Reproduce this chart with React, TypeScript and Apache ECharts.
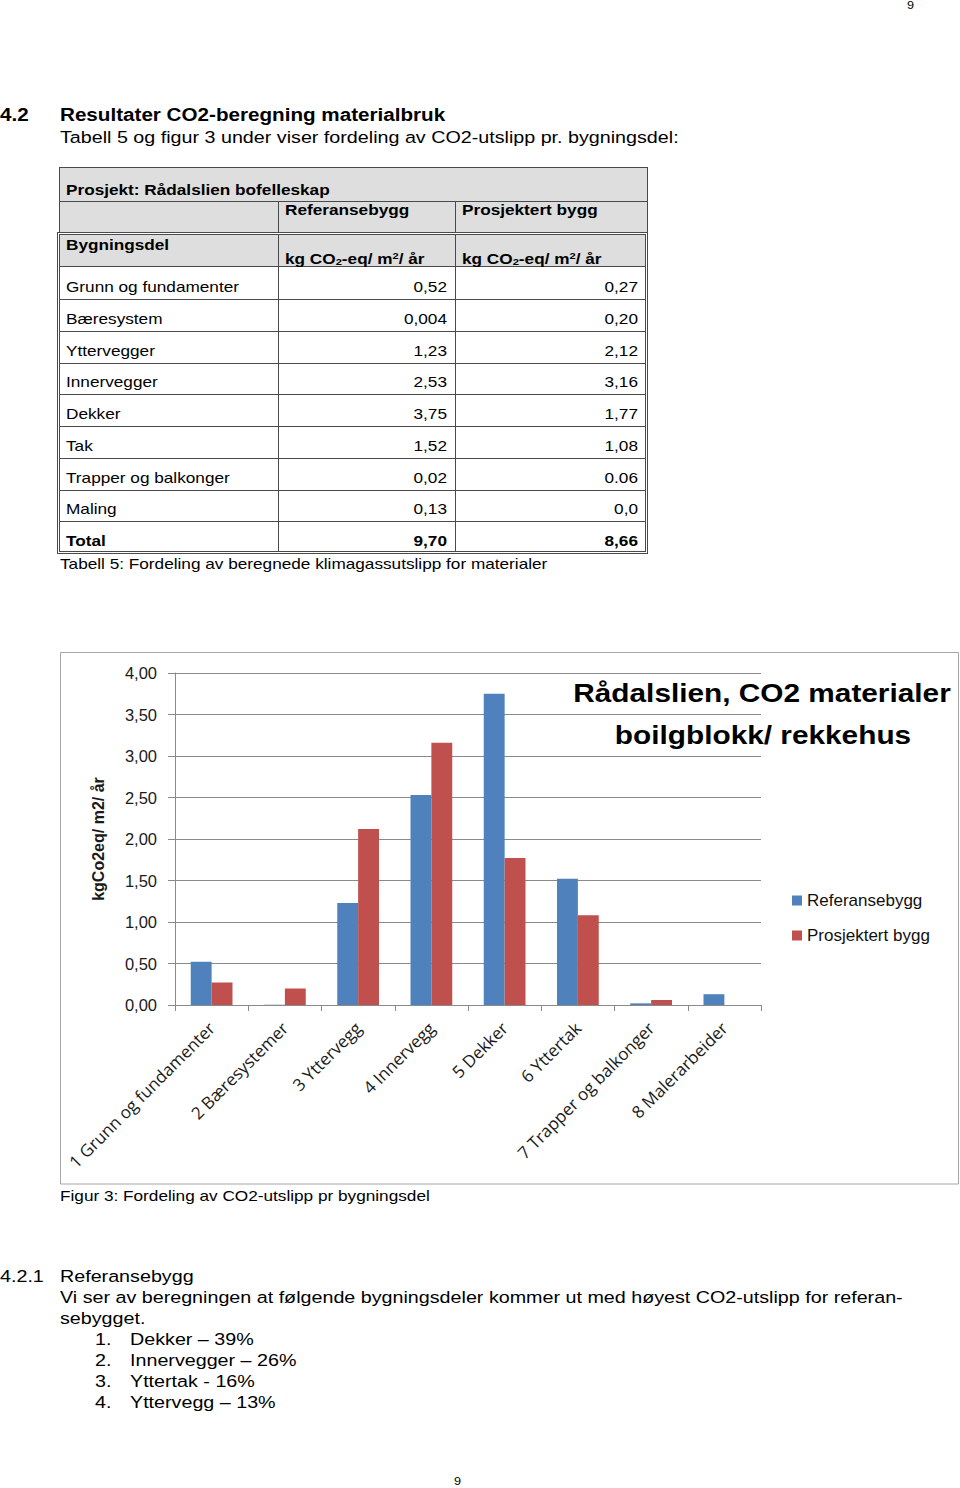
import React, { useEffect, useRef } from "react";
import * as echarts from "echarts";

// ---------- chart data ----------
const categories = [
  "1 Grunn og fundamenter",
  "2 Bæresystemer",
  "3 Yttervegg",
  "4 Innervegg",
  "5 Dekker",
  "6 Yttertak",
  "7 Trapper og balkonger",
  "8 Malerarbeider",
];
const refValues = [0.52, 0.004, 1.23, 2.53, 3.75, 1.52, 0.02, 0.13];
const projValues = [0.27, 0.2, 2.12, 3.16, 1.77, 1.08, 0.06, 0.0];
const seriesNames = ["Referansebygg", "Prosjektert bygg"];
const yTickLabels = ["0,00", "0,50", "1,00", "1,50", "2,00", "2,50", "3,00", "3,50", "4,00"];
const titleLines = ["Rådalslien, CO2 materialer", "boilgblokk/ rekkehus"];
const yAxisName = "kgCo2eq/ m2/ år";

// ---------- table data ----------
const tableParts = [
  "Grunn og fundamenter",
  "Bæresystem",
  "Yttervegger",
  "Innervegger",
  "Dekker",
  "Tak",
  "Trapper og balkonger",
  "Maling",
];
const tableRef = ["0,52", "0,004", "1,23", "2,53", "3,75", "1,52", "0,02", "0,13"];
const tableProj = ["0,27", "0,20", "2,12", "3,16", "1,77", "1,08", "0.06", "0,0"];
const tableTotal = ["Total", "9,70", "8,66"];

const SX = 1.146;
const FONT = '"Liberation Sans", Arial, Helvetica, sans-serif';
const LINE = "#4a4a4a";
const HEAD_BG = "#dedede";
const BODY = 17.2;

function T({
  x,
  y,
  size,
  bold,
  right,
  children,
}: {
  x: number;
  y: number;
  size: number;
  bold?: boolean;
  right?: boolean;
  children: React.ReactNode;
}) {
  const h = size * 1.2;
  const base: React.CSSProperties = {
    position: "absolute",
    top: y - h / 2,
    height: h,
    lineHeight: `${h}px`,
    fontSize: size,
    fontWeight: bold ? "bold" : "normal",
    whiteSpace: "nowrap",
    transform: `scaleX(${SX})`,
    transformOrigin: right ? "right center" : "left center",
  };
  if (right) {
    return (
      <div style={{ ...base, left: x - 400, width: 400, textAlign: "right" }}>{children}</div>
    );
  }
  return <div style={{ ...base, left: x }}>{children}</div>;
}

function HLine({ x1, x2, y }: { x1: number; x2: number; y: number }) {
  return (
    <div
      style={{ position: "absolute", left: x1, top: y, width: x2 - x1, height: 1, background: LINE }}
    />
  );
}
function VLine({ x, y1, y2 }: { x: number; y1: number; y2: number }) {
  return (
    <div
      style={{ position: "absolute", left: x, top: y1, width: 1, height: y2 - y1, background: LINE }}
    />
  );
}

function Units() {
  return (
    <span>
      kg CO<sub style={{ fontSize: "0.65em", verticalAlign: "-0.15em" }}>2</sub>-eq/ m
      <sup style={{ fontSize: "0.65em", verticalAlign: "0.55em" }}>2</sup>/ år
    </span>
  );
}

function Table() {
  const c1 = 278;
  const c2 = 455;
  const rowBottoms: number[] = [];
  let b = 299;
  rowBottoms.push(b);
  for (let i = 1; i <= tableParts.length; i++) {
    b += 31.75;
    rowBottoms.push(b);
  }
  const rows = tableParts.map((p, i) => [p, tableRef[i], tableProj[i]]);
  rows.push(tableTotal);
  return (
    <>
      <div
        style={{
          position: "absolute",
          left: 59,
          top: 167,
          width: 589,
          height: 66,
          boxSizing: "border-box",
          border: `1px solid ${LINE}`,
          background: HEAD_BG,
        }}
      />
      <HLine x1={59} x2={647} y={201} />
      <VLine x={c1} y1={201} y2={233} />
      <VLine x={c2} y1={201} y2={233} />
      <div
        style={{
          position: "absolute",
          left: 57,
          top: 232,
          width: 591,
          height: 322,
          boxSizing: "border-box",
          border: `3px double ${LINE}`,
          background: "#fff",
        }}
      />
      <div
        style={{ position: "absolute", left: 60, top: 235, width: 585, height: 31, background: HEAD_BG }}
      />
      <HLine x1={60} x2={645} y={266} />
      {rowBottoms.slice(0, rowBottoms.length - 1).map((yb, i) => (
        <HLine key={i} x1={60} x2={645} y={Math.round(yb)} />
      ))}
      <VLine x={c1} y1={235} y2={551} />
      <VLine x={c2} y1={235} y2={551} />

      <T x={66} y={190} size={15} bold>
        Prosjekt: Rådalslien bofelleskap
      </T>
      <T x={285} y={210} size={15} bold>
        Referansebygg
      </T>
      <T x={462} y={210} size={15} bold>
        Prosjektert bygg
      </T>
      <T x={66} y={245} size={15} bold>
        Bygningsdel
      </T>
      <T x={285} y={256} size={15} bold>
        <Units />
      </T>
      <T x={462} y={256} size={15} bold>
        <Units />
      </T>
      {rows.map((r, i) => {
        const cy = rowBottoms[i] - 12;
        const bold = i === rows.length - 1;
        return (
          <React.Fragment key={i}>
            <T x={66} y={cy} size={15} bold={bold}>
              {r[0]}
            </T>
            <T x={447} y={cy} size={15} bold={bold} right>
              {r[1]}
            </T>
            <T x={638} y={cy} size={15} bold={bold} right>
              {r[2]}
            </T>
          </React.Fragment>
        );
      })}
      <T x={60} y={564} size={15}>
        Tabell 5: Fordeling av beregnede klimagassutslipp for materialer
      </T>
    </>
  );
}

function Chart() {
  const ref = useRef<HTMLDivElement>(null);
  useEffect(() => {
    if (!ref.current) return;
    const chart = echarts.init(ref.current, null, { renderer: "svg" });
    const grid = "#8a8a8a";
    chart.setOption({
      animation: false,
      grid: { left: 115, top: 21, width: 586, height: 332 },
      xAxis: {
        type: "category",
        data: categories,
        axisLine: { show: true, lineStyle: { color: grid, width: 1 } },
        axisTick: { show: true, length: 6, lineStyle: { color: grid } },
        axisLabel: {
          interval: 0,
          rotate: 45,
          margin: 20,
          fontFamily: '"Open Sans", sans-serif',
          fontSize: 17,
          color: "#1a1a1a",
        },
        splitLine: { show: false },
      },
      yAxis: {
        type: "value",
        min: 0,
        max: 4,
        interval: 0.5,
        name: yAxisName,
        nameLocation: "middle",
        nameGap: 69,
        nameTextStyle: {
          fontFamily: FONT,
          fontWeight: "bold",
          fontSize: 16,
          color: "#1a1a1a",
        },
        axisLine: { show: true, lineStyle: { color: grid } },
        axisTick: { show: true, length: 7, lineStyle: { color: grid } },
        splitLine: { show: true, lineStyle: { color: grid, width: 1 } },
        axisLabel: {
          margin: 18,
          fontFamily: FONT,
          fontSize: 16.5,
          color: "#1a1a1a",
          formatter: (v: number) => yTickLabels[Math.round(v / 0.5)] ?? "",
        },
      },
      legend: {
        orient: "vertical",
        left: 727,
        top: 235,
        itemWidth: 10,
        itemHeight: 10,
        itemGap: 18,
        icon: "rect",
        textStyle: { fontFamily: FONT, fontSize: 17, color: "#111" },
        data: seriesNames,
      },
      series: [
        {
          type: "bar",
          name: seriesNames[0],
          data: refValues,
          itemStyle: { color: "#4F81BD" },
          barGap: "0%",
          barCategoryGap: "43%",
        },
        {
          type: "bar",
          name: seriesNames[1],
          data: projValues,
          itemStyle: { color: "#C0504D" },
          barGap: "0%",
          barCategoryGap: "43%",
        },
      ],
      graphic: [
        {
          type: "rect",
          z: 0,
          shape: { x: 0.5, y: 0.5, width: 898, height: 531.5 },
          style: { fill: "none", stroke: "#a6a6a6", lineWidth: 1 },
        },
        {
          type: "text",
          z: 100,
          x: 702,
          y: 41,
          scaleX: SX,
          style: {
            text: titleLines[0],
            font: `bold 26px ${FONT}`,
            fill: "#000",
            textAlign: "center",
            textVerticalAlign: "middle",
          },
        },
        {
          type: "text",
          z: 100,
          x: 703,
          y: 83,
          scaleX: SX,
          style: {
            text: titleLines[1],
            font: `bold 26px ${FONT}`,
            fill: "#000",
            textAlign: "center",
            textVerticalAlign: "middle",
          },
        },
      ],
    });
    return () => chart.dispose();
  }, []);
  return (
    <div ref={ref} style={{ position: "absolute", left: 60, top: 652, width: 900, height: 534 }} />
  );
}

export default function App() {
  return (
    <div
      style={{
        position: "absolute",
        left: 0,
        top: 0,
        width: 960,
        height: 1488,
        background: "#fff",
        color: "#000",
        fontFamily: FONT,
        overflow: "hidden",
      }}
    >
      <T x={907} y={6} size={11}>
        9
      </T>
      <T x={0} y={116} size={18} bold>
        4.2
      </T>
      <T x={60} y={116} size={18} bold>
        Resultater CO2-beregning materialbruk
      </T>
      <T x={60} y={137} size={BODY}>
        Tabell 5 og figur 3 under viser fordeling av CO2-utslipp pr. bygningsdel:
      </T>

      <Table />

      <Chart />

      <T x={60} y={1196} size={15}>
        Figur 3: Fordeling av CO2-utslipp pr bygningsdel
      </T>

      <T x={0} y={1276} size={BODY}>
        4.2.1
      </T>
      <T x={60} y={1276} size={BODY}>
        Referansebygg
      </T>
      <T x={60} y={1297} size={BODY}>
        Vi ser av beregningen at følgende bygningsdeler kommer ut med høyest CO2-utslipp for referan-
      </T>
      <T x={60} y={1318} size={BODY}>
        sebygget.
      </T>
      <T x={95} y={1339} size={BODY}>
        1.
      </T>
      <T x={130} y={1339} size={BODY}>
        Dekker – 39%
      </T>
      <T x={95} y={1360} size={BODY}>
        2.
      </T>
      <T x={130} y={1360} size={BODY}>
        Innervegger – 26%
      </T>
      <T x={95} y={1381} size={BODY}>
        3.
      </T>
      <T x={130} y={1381} size={BODY}>
        Yttertak - 16%
      </T>
      <T x={95} y={1402} size={BODY}>
        4.
      </T>
      <T x={130} y={1402} size={BODY}>
        Yttervegg – 13%
      </T>
      <T x={454} y={1482} size={11}>
        9
      </T>
    </div>
  );
}
